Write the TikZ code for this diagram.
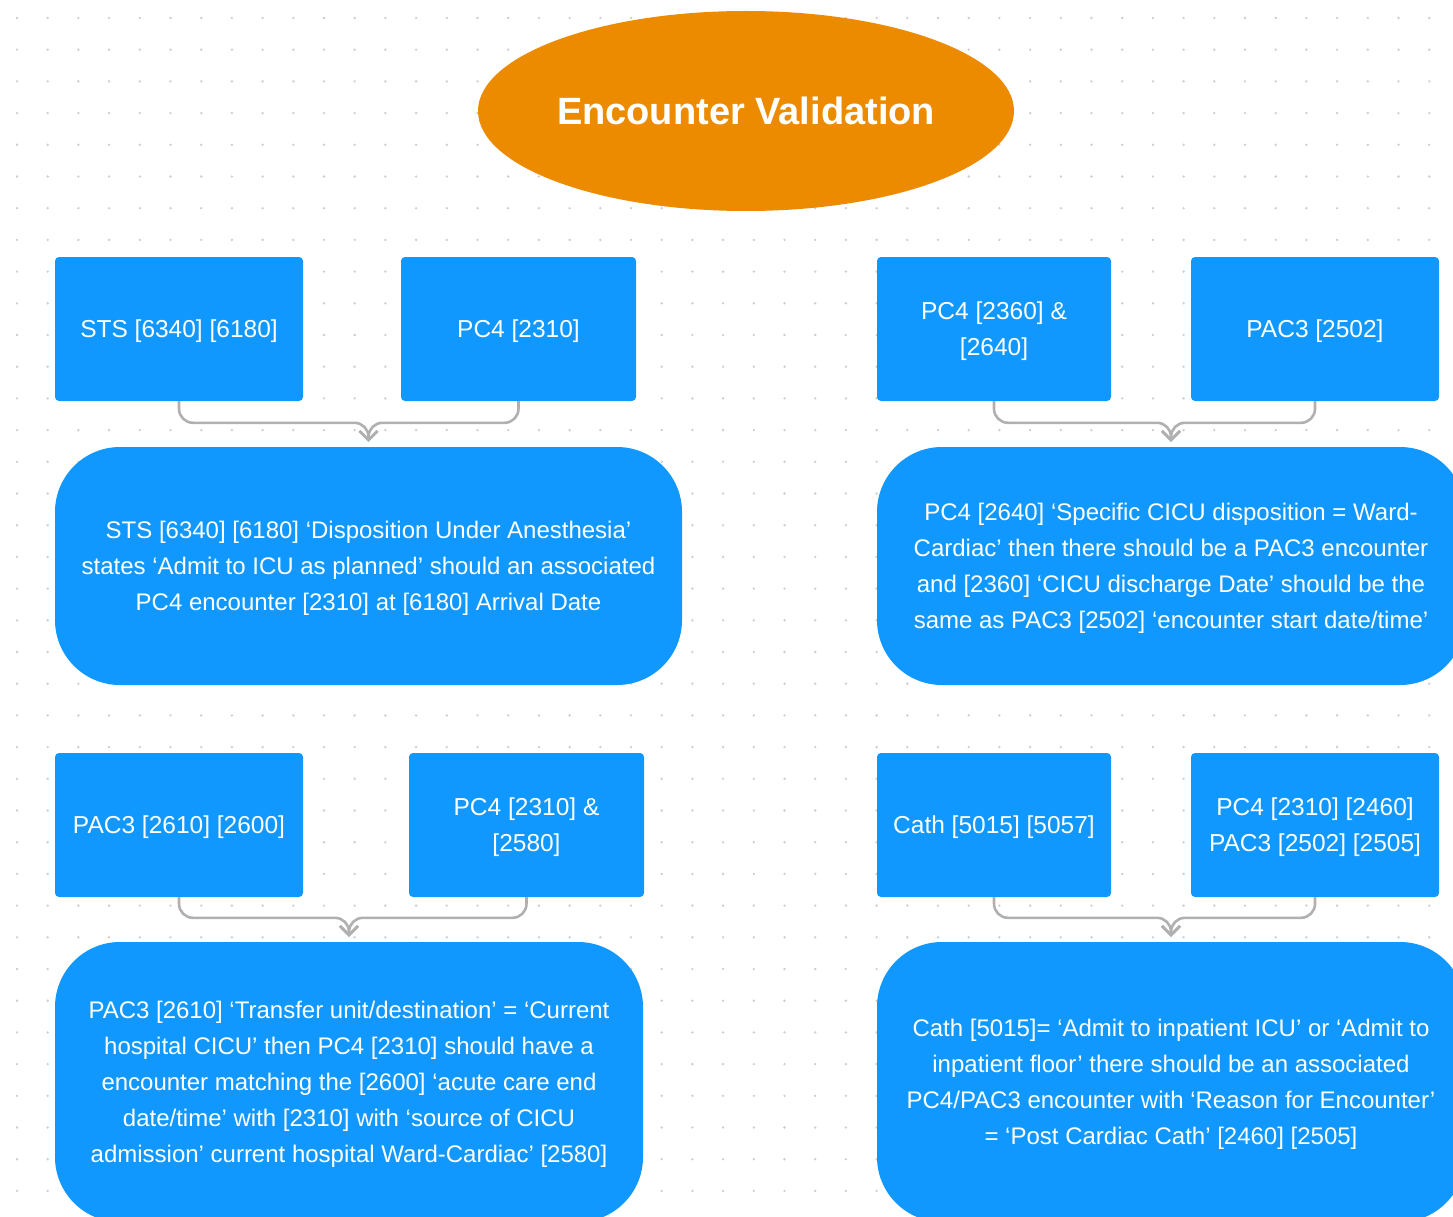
\documentclass[tikz,border=0pt]{standalone}
\usepackage{fontspec}
\setmainfont{Liberation Sans}
\usetikzlibrary{shapes.geometric,arrows.meta,calc}
\definecolor{boxblue}{RGB}{16,152,255}
\definecolor{titleorange}{RGB}{237,139,0}
\definecolor{conngray}{RGB}{176,176,176}
\definecolor{dotgray}{RGB}{205,205,205}
\tikzset{
  sqbox/.style={draw=none,fill=boxblue,rounded corners=4pt,text=white,align=center,inner sep=0pt,text depth=0pt,font=\fontsize{24.5}{36}\selectfont},
  pillbox/.style={draw=none,fill=boxblue,rounded corners=65pt,text=white,align=center,inner sep=0pt,text depth=-3pt,font=\fontsize{24}{36}\selectfont},
  titlebox/.style={ellipse,draw=none,fill=titleorange,text=white,inner sep=0pt,text depth=-6pt,font=\fontsize{38}{42}\selectfont\bfseries},
  conn/.style={draw=conngray,line width=2.6pt,rounded corners=14pt,shorten >=5pt,-{Straight Barb[length=9pt,width=18pt,line width=2.6pt]}}
}
\begin{document}
\begin{tikzpicture}[x=1pt,y=-1pt]
\useasboundingbox (0,0) rectangle (1453,1217);
\fill[white] (0,0) rectangle (1453,1217);
\begin{scope}
\clip (0,0) rectangle (1453,1217);
\foreach \i in {0,...,47}{
  \foreach \j in {0,...,38}{
    \fill[dotgray] ({17+30.7*\i},{18+31.7*\j}) circle (1.3pt);
  }
}
\node[titlebox,minimum width=536pt,minimum height=200pt] (title) at (746,111) {Encounter Validation};

\node[sqbox,minimum width=248pt,minimum height=144pt] (s1) at (179,329) {STS [6340] [6180]};
\node[sqbox,minimum width=235pt,minimum height=144pt] (p1) at (518.5,329) {PC4 [2310]};
\node[sqbox,minimum width=234pt,minimum height=144pt] (c1) at (994,329) {PC4 [2360] \&\\{[2640]}};
\node[sqbox,minimum width=248pt,minimum height=144pt] (d1) at (1315,329) {PAC3 [2502]};

\node[pillbox,minimum width=627pt,minimum height=238pt] (r1) at (368.5,566) {STS [6340] [6180] ‘Disposition Under Anesthesia’\\states ‘Admit to ICU as planned’ should an associated\\PC4 encounter [2310] at [6180] Arrival Date};
\node[pillbox,minimum width=588pt,minimum height=238pt] (r2) at (1171,566) {PC4 [2640] ‘Specific CICU disposition = Ward-\\Cardiac’ then there should be a PAC3 encounter\\and [2360] ‘CICU discharge Date’ should be the\\same as PAC3 [2502] ‘encounter start date/time’};

\node[sqbox,minimum width=248pt,minimum height=144pt] (e1) at (179,825) {PAC3 [2610] [2600]};
\node[sqbox,minimum width=235pt,minimum height=144pt] (f1) at (526.5,825) {PC4 [2310] \&\\{[2580]}};
\node[sqbox,minimum width=234pt,minimum height=144pt] (g1) at (994,825) {Cath [5015] [5057]};
\node[sqbox,minimum width=248pt,minimum height=144pt] (h1) at (1315,825) {PC4 [2310] [2460]\\PAC3 [2502] [2505]};

\node[pillbox,minimum width=588pt,minimum height=280pt] (r3) at (349,1082) {PAC3 [2610] ‘Transfer unit/destination’ = ‘Current\\hospital CICU’ then PC4 [2310] should have a\\encounter matching the [2600] ‘acute care end\\date/time’ with [2310] with ‘source of CICU\\admission’ current hospital Ward-Cardiac’ [2580]};
\node[pillbox,minimum width=588pt,minimum height=280pt] (r4) at (1171,1082) {Cath [5015]= ‘Admit to inpatient ICU’ or ‘Admit to\\inpatient floor’ there should be an associated\\PC4/PAC3 encounter with ‘Reason for Encounter’\\= ‘Post Cardiac Cath’ [2460] [2505]};

\draw[conn] (s1.south) |- ($(r1.north)+(0,-24)$) -- (r1.north);
\draw[conn] (p1.south) |- ($(r1.north)+(0,-24)$) -- (r1.north);
\draw[conn] (c1.south) |- ($(r2.north)+(0,-24)$) -- (r2.north);
\draw[conn] (d1.south) |- ($(r2.north)+(0,-24)$) -- (r2.north);
\draw[conn] (e1.south) |- ($(r3.north)+(0,-24)$) -- (r3.north);
\draw[conn] (f1.south) |- ($(r3.north)+(0,-24)$) -- (r3.north);
\draw[conn] (g1.south) |- ($(r4.north)+(0,-24)$) -- (r4.north);
\draw[conn] (h1.south) |- ($(r4.north)+(0,-24)$) -- (r4.north);
\end{scope}
\end{tikzpicture}
\end{document}
